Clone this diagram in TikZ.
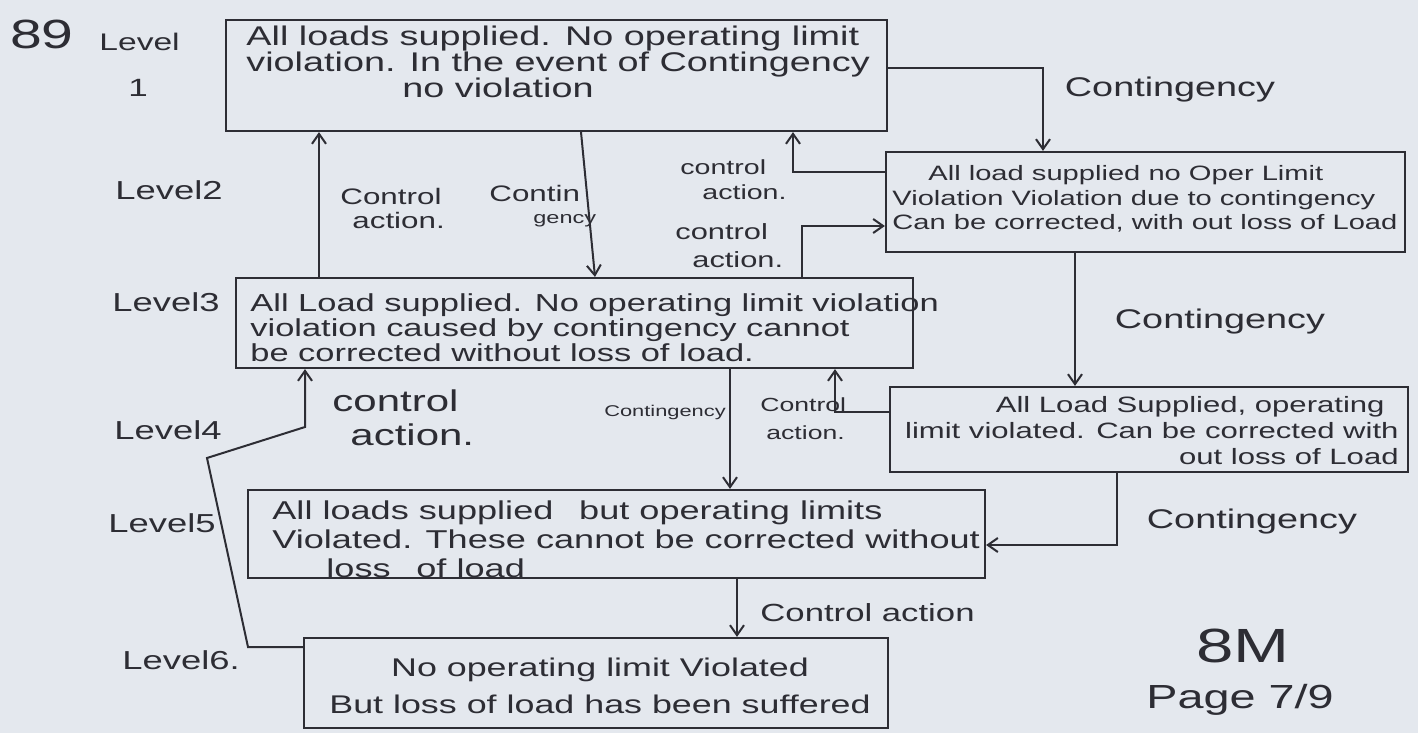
\documentclass[tikz,border=0pt]{standalone}
\usepackage{fontspec}
\setmainfont{Liberation Sans}[FakeStretch=1.4]
\usetikzlibrary{arrows.meta,fit}
\definecolor{paper}{RGB}{228,232,238}
\definecolor{ink}{RGB}{45,45,52}
\newcommand\myfs[2]{\fontsize{#1}{#2}\selectfont}
\begin{document}
\begin{tikzpicture}[x=0.5pt,y=-0.5pt,
  box/.style={draw=ink, line width=1.1pt, inner sep=0pt},
  txt/.style={text=ink, inner sep=0pt},
  arr/.style={draw=ink, line width=1pt, -{Straight Barb[length=5pt,width=7pt]}},
]
\fill[paper] (0,0) rectangle (1418,733);
\useasboundingbox (0,0) rectangle (1418,733);

% boxes
\node[box, fit={(226,20) (887,131)}] (b1) {};
\node[box, fit={(886,152) (1405,252)}] (b2) {};
\node[box, fit={(236,278) (913,368)}] (b3) {};
\node[box, fit={(890,387) (1408,472)}] (b4) {};
\node[box, fit={(248,490) (985,578)}] (b5) {};
\node[box, fit={(304,638) (888,728)}] (b6) {};

% box texts
\node[txt, anchor=west, align=left, font=\myfs{13.5}{13}] (t1) at (246,62)
  {All loads supplied. No operating limit\\violation. In the event of Contingency\\\hspace*{78pt}no violation};
\node[txt, anchor=west, align=left, font=\myfs{10.4}{12.3}] (t2) at (892,199)
  {\hspace*{18pt}All load supplied no Oper Limit\\Violation Violation due to contingency\\Can be corrected, with out loss of Load};
\node[txt, anchor=west, align=left, font=\myfs{12.3}{12.5}] (t3) at (250,328)
  {All Load supplied. No operating limit violation\\violation caused by contingency cannot\\be corrected without loss of load.};
\node[txt, anchor=east, align=right, font=\myfs{11.1}{13}] (t4) at (1399,431)
  {All Load Supplied, operating\hspace*{7pt}\\limit violated. Can be corrected with\\out loss of Load};
\node[txt, anchor=west, align=left, font=\myfs{12.9}{14.5}] (t5) at (272,539)
  {All loads supplied\quad but operating limits\\Violated. These cannot be corrected without\\\hspace*{27pt}loss\quad of load};
\node[txt, align=center, font=\myfs{12.8}{18.5}] (t6) at (600,686)
  {No operating limit Violated\\But loss of load has been suffered};

% connector bends
\coordinate (c1) at (1043,68);
\coordinate (c2) at (793,172);
\coordinate (c3) at (802,226);
\coordinate (c4) at (319,0);
\coordinate (c5a) at (581,0);
\coordinate (c5b) at (595,0);
\coordinate (c6) at (1075,0);
\coordinate (c7) at (835,412);
\coordinate (c8) at (730,0);
\coordinate (c9) at (1117,545);
\coordinate (c10) at (737,0);
\coordinate (c11a) at (248,647);
\coordinate (c11b) at (207,458);
\coordinate (c11c) at (305,427);

% connectors
\draw[arr] (b1.east |- c1) -- (c1) -- (c1 |- b2.north);
\draw[arr] (b2.west |- c2) -- (c2) -- (c2 |- b1.south);
\draw[arr] (c3 |- b3.north) -- (c3) -- (c3 -| b2.west);
\draw[arr] (c4 |- b3.north) -- (c4 |- b1.south);
\draw[arr] (b1.south -| c5a) -- (b3.north -| c5b);
\draw[arr] (b2.south -| c6) -- (b4.north -| c6);
\draw[arr] (b4.west |- c7) -- (c7) -- (c7 |- b3.south);
\draw[arr] (b3.south -| c8) -- (b5.north -| c8);
\draw[arr] (b4.south -| c9) -- (c9) -- (c9 -| b5.east);
\draw[arr] (b5.south -| c10) -- (b6.north -| c10);
\draw[arr] (b6.west |- c11a) -- (c11a) -- (c11b) -- (c11c) -- (c11c |- b3.south);

% connector labels
\node[txt, font=\myfs{13.5}{14}] (l1) at (1170,90) {Contingency};
\node[txt, font=\myfs{13.5}{14}] (l2) at (1220,322) {Contingency};
\node[txt, font=\myfs{13.5}{14}] (l3) at (1252,522) {Contingency};
\node[txt, font=\myfs{7.8}{9}] (l4) at (665,412) {Contingency};
\node[txt, anchor=west, align=left, font=\myfs{10.2}{12.5}] (l5) at (680,180) {control\\\hspace*{11pt}action.};
\node[txt, anchor=west, align=left, font=\myfs{11}{14}] (l6) at (675,246) {control\\\hspace*{8.5pt}action.};
\node[txt, anchor=west, align=left, font=\myfs{11.2}{12}] (l7) at (340,208) {Control\\\hspace*{6pt}action.};
\node[txt, anchor=west, align=left, font=\myfs{11.2}{11}] (l8) at (489,206) {Contin\\\hspace*{22pt}{\myfs{8.4}{9}gency}};
\node[txt, anchor=west, align=left, font=\myfs{9.5}{14}] (l9) at (760,419) {Control\\\hspace*{3pt}action.};
\node[txt, anchor=west, align=left, font=\myfs{15}{17}] (l10) at (332,418) {control\\\hspace*{9pt}action.};
\node[txt, anchor=west, font=\myfs{12.4}{13}] (l11) at (760,613) {Control action};

% level labels
\node[txt, font=\myfs{20.4}{21}] (n89) at (42,34) {89};
\node[txt, anchor=west, font=\myfs{12}{13}] (lv1) at (99,42) {Level};
\node[txt, font=\myfs{12.5}{13}] (lv1n) at (138,88) {1};
\node[txt, anchor=west, font=\myfs{13}{14}] (lv2) at (115,190) {Level2};
\node[txt, anchor=west, font=\myfs{13}{14}] (lv3) at (112,302) {Level3};
\node[txt, anchor=west, font=\myfs{13}{14}] (lv4) at (114,430) {Level4};
\node[txt, anchor=west, font=\myfs{13}{14}] (lv5) at (108,523) {Level5};
\node[txt, anchor=west, font=\myfs{13}{14}] (lv6) at (122,660) {Level6.};

\node[txt, font=\myfs{24}{24}] (m8) at (1243,646) {8M};
\node[txt, font=\myfs{16.7}{17}] (pg) at (1240,700) {Page 7/9};
\end{tikzpicture}
\end{document}
